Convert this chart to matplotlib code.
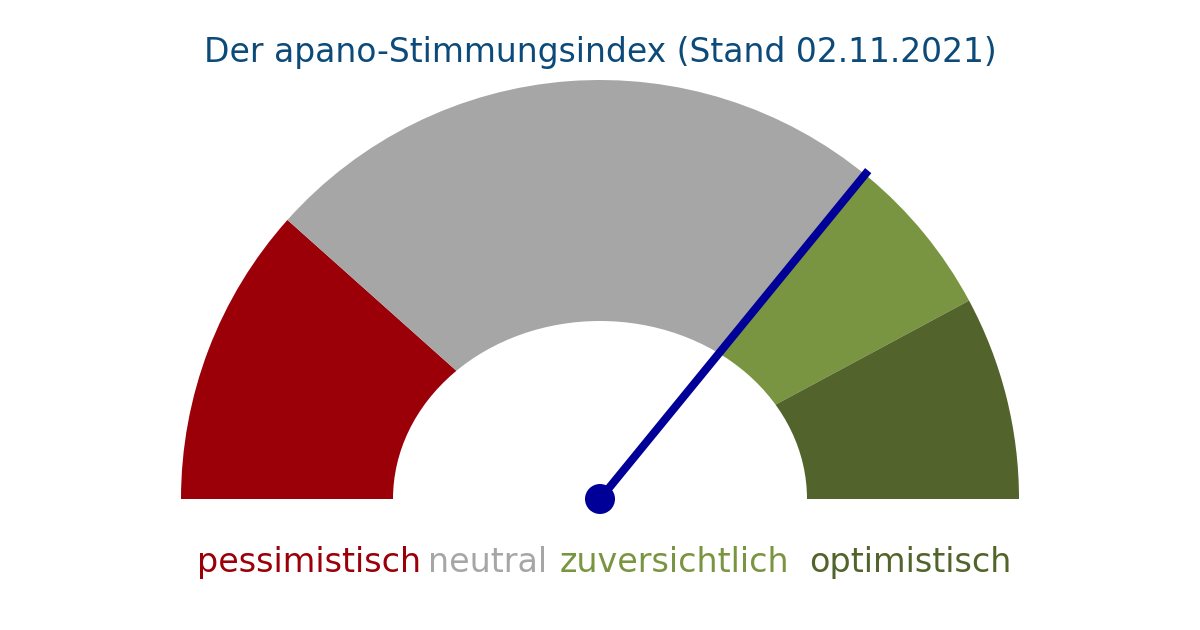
"""apano-Stimmungsindex gauge (Stand 02.11.2021)."""
import matplotlib
matplotlib.use("Agg")
import matplotlib.pyplot as plt
from matplotlib.patches import Wedge, Ellipse, Circle
import numpy as np

# gauge scale 0..100, left (180 deg) to right (0 deg)
BAND_LABELS = ["pessimistisch", "neutral", "zuversichtlich", "optimistisch"]
BAND_EDGES  = [0, 23.2, 72.0, 84.3, 100]
BAND_COLORS = ["#9b0009", "#a6a6a6", "#7a9541", "#52632b"]
NEEDLE_VALUE = 71.8
TITLE = "Der apano-Stimmungsindex (Stand 02.11.2021)"

W, H = 1200, 630
CX, CY = 600, H - 499          # gauge center in pixel coords (y up)
R_OUT = 419
R_IN_X, R_IN_Y = 207, 178


def to_angle(v):
    return 180.0 - v / 100.0 * 180.0


fig = plt.figure(figsize=(W / 100, H / 100), dpi=100)
ax = fig.add_axes([0, 0, 1, 1])
ax.set_xlim(0, W)
ax.set_ylim(0, H)
ax.axis("off")

for lo, hi, col in zip(BAND_EDGES[:-1], BAND_EDGES[1:], BAND_COLORS):
    ax.add_patch(Wedge((CX, CY), R_OUT, to_angle(hi), to_angle(lo),
                       facecolor=col, edgecolor="none", zorder=1))

ax.add_patch(Ellipse((CX, CY), 2 * R_IN_X, 2 * R_IN_Y,
                     facecolor="white", edgecolor="none", zorder=2))

a = np.radians(to_angle(NEEDLE_VALUE))
L = 424
ax.plot([CX, CX + L * np.cos(a)], [CY, CY + L * np.sin(a)],
        color="#000099", lw=5.8, solid_capstyle="butt", zorder=3)
ax.add_patch(Circle((CX, CY), 15, facecolor="#000099", edgecolor="none", zorder=4))

ax.text(W / 2, H - 62, TITLE, ha="center", va="baseline",
        fontsize=23.8, color="#0c4a7a", family="DejaVu Sans")

# legend words under the gauge
word_centers = [309, 488, 674, 910]
for word, xc, col in zip(BAND_LABELS, word_centers, BAND_COLORS):
    ax.text(xc, H - 572, word, ha="center", va="baseline",
            fontsize=24, color=col, family="DejaVu Sans")

fig.savefig("out.png", dpi=100)
